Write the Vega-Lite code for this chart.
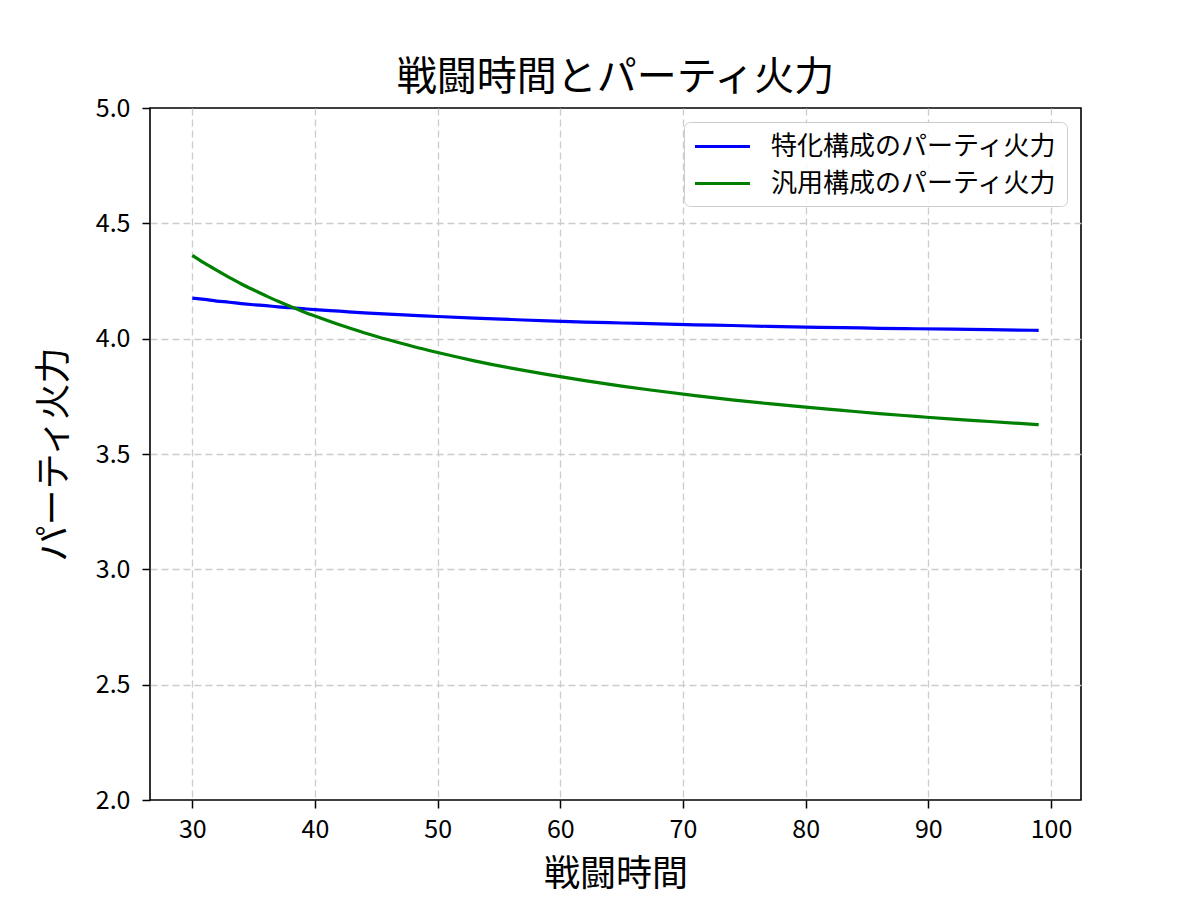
{
  "$schema": "https://vega.github.io/schema/vega-lite/v6.json",
  "autosize": "none",
  "width": 931,
  "height": 692,
  "padding": {"left": 150, "top": 108, "right": 119, "bottom": 100},
  "title": {
    "text": "戦闘時間とパーティ火力",
    "fontSize": 40,
    "fontWeight": "normal",
    "font": "Noto Sans CJK JP",
    "color": "black",
    "anchor": "middle",
    "baseline": "alphabetic",
    "offset": -34
  },
  "data": {
    "values": [
      {"t": 30, "v": 4.176, "s": "特化構成のパーティ火力"},
      {"t": 31, "v": 4.170, "s": "特化構成のパーティ火力"},
      {"t": 32, "v": 4.163, "s": "特化構成のパーティ火力"},
      {"t": 33, "v": 4.158, "s": "特化構成のパーティ火力"},
      {"t": 34, "v": 4.152, "s": "特化構成のパーティ火力"},
      {"t": 35, "v": 4.147, "s": "特化構成のパーティ火力"},
      {"t": 36, "v": 4.143, "s": "特化構成のパーティ火力"},
      {"t": 37, "v": 4.138, "s": "特化構成のパーティ火力"},
      {"t": 38, "v": 4.134, "s": "特化構成のパーティ火力"},
      {"t": 39, "v": 4.130, "s": "特化構成のパーティ火力"},
      {"t": 40, "v": 4.126, "s": "特化構成のパーティ火力"},
      {"t": 42, "v": 4.119, "s": "特化構成のパーティ火力"},
      {"t": 44, "v": 4.112, "s": "特化構成のパーティ火力"},
      {"t": 46, "v": 4.106, "s": "特化構成のパーティ火力"},
      {"t": 48, "v": 4.101, "s": "特化構成のパーティ火力"},
      {"t": 50, "v": 4.096, "s": "特化構成のパーティ火力"},
      {"t": 53, "v": 4.089, "s": "特化構成のパーティ火力"},
      {"t": 56, "v": 4.083, "s": "特化構成のパーティ火力"},
      {"t": 59, "v": 4.077, "s": "特化構成のパーティ火力"},
      {"t": 62, "v": 4.072, "s": "特化構成のパーティ火力"},
      {"t": 65, "v": 4.068, "s": "特化構成のパーティ火力"},
      {"t": 68, "v": 4.064, "s": "特化構成のパーティ火力"},
      {"t": 71, "v": 4.060, "s": "特化構成のパーティ火力"},
      {"t": 74, "v": 4.057, "s": "特化構成のパーティ火力"},
      {"t": 77, "v": 4.053, "s": "特化構成のパーティ火力"},
      {"t": 80, "v": 4.050, "s": "特化構成のパーティ火力"},
      {"t": 83, "v": 4.048, "s": "特化構成のパーティ火力"},
      {"t": 86, "v": 4.045, "s": "特化構成のパーティ火力"},
      {"t": 89, "v": 4.043, "s": "特化構成のパーティ火力"},
      {"t": 92, "v": 4.041, "s": "特化構成のパーティ火力"},
      {"t": 95, "v": 4.039, "s": "特化構成のパーティ火力"},
      {"t": 99, "v": 4.036, "s": "特化構成のパーティ火力"},
      {"t": 30, "v": 4.361, "s": "汎用構成のパーティ火力"},
      {"t": 31, "v": 4.327, "s": "汎用構成のパーティ火力"},
      {"t": 32, "v": 4.296, "s": "汎用構成のパーティ火力"},
      {"t": 33, "v": 4.266, "s": "汎用構成のパーティ火力"},
      {"t": 34, "v": 4.237, "s": "汎用構成のパーティ火力"},
      {"t": 35, "v": 4.211, "s": "汎用構成のパーティ火力"},
      {"t": 36, "v": 4.186, "s": "汎用構成のパーティ火力"},
      {"t": 37, "v": 4.162, "s": "汎用構成のパーティ火力"},
      {"t": 38, "v": 4.140, "s": "汎用構成のパーティ火力"},
      {"t": 39, "v": 4.118, "s": "汎用構成のパーティ火力"},
      {"t": 40, "v": 4.098, "s": "汎用構成のパーティ火力"},
      {"t": 42, "v": 4.060, "s": "汎用構成のパーティ火力"},
      {"t": 44, "v": 4.026, "s": "汎用構成のパーティ火力"},
      {"t": 46, "v": 3.995, "s": "汎用構成のパーティ火力"},
      {"t": 48, "v": 3.966, "s": "汎用構成のパーティ火力"},
      {"t": 50, "v": 3.940, "s": "汎用構成のパーティ火力"},
      {"t": 53, "v": 3.904, "s": "汎用構成のパーティ火力"},
      {"t": 56, "v": 3.872, "s": "汎用構成のパーティ火力"},
      {"t": 59, "v": 3.844, "s": "汎用構成のパーティ火力"},
      {"t": 62, "v": 3.818, "s": "汎用構成のパーティ火力"},
      {"t": 65, "v": 3.794, "s": "汎用構成のパーティ火力"},
      {"t": 68, "v": 3.773, "s": "汎用構成のパーティ火力"},
      {"t": 71, "v": 3.753, "s": "汎用構成のパーティ火力"},
      {"t": 74, "v": 3.735, "s": "汎用構成のパーティ火力"},
      {"t": 77, "v": 3.718, "s": "汎用構成のパーティ火力"},
      {"t": 80, "v": 3.703, "s": "汎用構成のパーティ火力"},
      {"t": 83, "v": 3.689, "s": "汎用構成のパーティ火力"},
      {"t": 86, "v": 3.675, "s": "汎用構成のパーティ火力"},
      {"t": 89, "v": 3.663, "s": "汎用構成のパーティ火力"},
      {"t": 92, "v": 3.651, "s": "汎用構成のパーティ火力"},
      {"t": 95, "v": 3.641, "s": "汎用構成のパーティ火力"},
      {"t": 99, "v": 3.627, "s": "汎用構成のパーティ火力"}
    ]
  },
  "mark": {"type": "line", "interpolate": "monotone", "strokeWidth": 3.2, "clip": true},
  "encoding": {
    "x": {
      "field": "t",
      "type": "quantitative",
      "title": "戦闘時間",
      "scale": {"domain": [26.55, 102.45], "nice": false, "zero": false},
      "axis": {"values": [30, 40, 50, 60, 70, 80, 90, 100]}
    },
    "y": {
      "field": "v",
      "type": "quantitative",
      "title": "パーティ火力",
      "scale": {"domain": [2, 5], "nice": false, "zero": false},
      "axis": {
        "values": [2, 2.5, 3, 3.5, 4, 4.5, 5],
        "format": ".1f",
        "gridOpacity": {"condition": {"test": "datum.value <= 2 || datum.value >= 5", "value": 0}, "value": 1}
      }
    },
    "color": {
      "field": "s",
      "type": "nominal",
      "title": null,
      "scale": {
        "domain": ["特化構成のパーティ火力", "汎用構成のパーティ火力"],
        "range": ["#0000ff", "#008000"]
      },
      "legend": {
        "orient": "top-right",
        "offset": 14,
        "symbolType": "M-2,0H2",
        "symbolSize": 756,
        "symbolOffset": 14,
        "symbolStrokeWidth": 3.2,
        "labelFontSize": 26,
        "labelOffset": 33,
        "labelFont": "Noto Sans CJK JP",
        "labelColor": "black",
        "labelLimit": 400,
        "rowPadding": 8,
        "padding": 9,
        "strokeColor": "#cccccc",
        "fillColor": "rgba(255,255,255,0.85)",
        "cornerRadius": 6
      }
    }
  },
  "config": {
    "font": "Noto Sans CJK JP",
    "background": "white",
    "view": {"stroke": "black", "strokeWidth": 1.6},
    "axis": {
      "domain": false,
      "ticks": true,
      "tickColor": "black",
      "tickSize": 8,
      "tickWidth": 1.5,
      "labelFontSize": 25,
      "labelColor": "black",
      "titleFontSize": 36,
      "titleFontWeight": "normal",
      "titleColor": "black",
      "grid": true,
      "gridColor": "#cccccc",
      "gridDash": [7, 4],
      "gridWidth": 1.3
    },
    "axisX": {"labelPadding": 9, "titlePadding": 15},
    "axisY": {"labelPadding": 12, "titlePadding": 22}
  }
}
